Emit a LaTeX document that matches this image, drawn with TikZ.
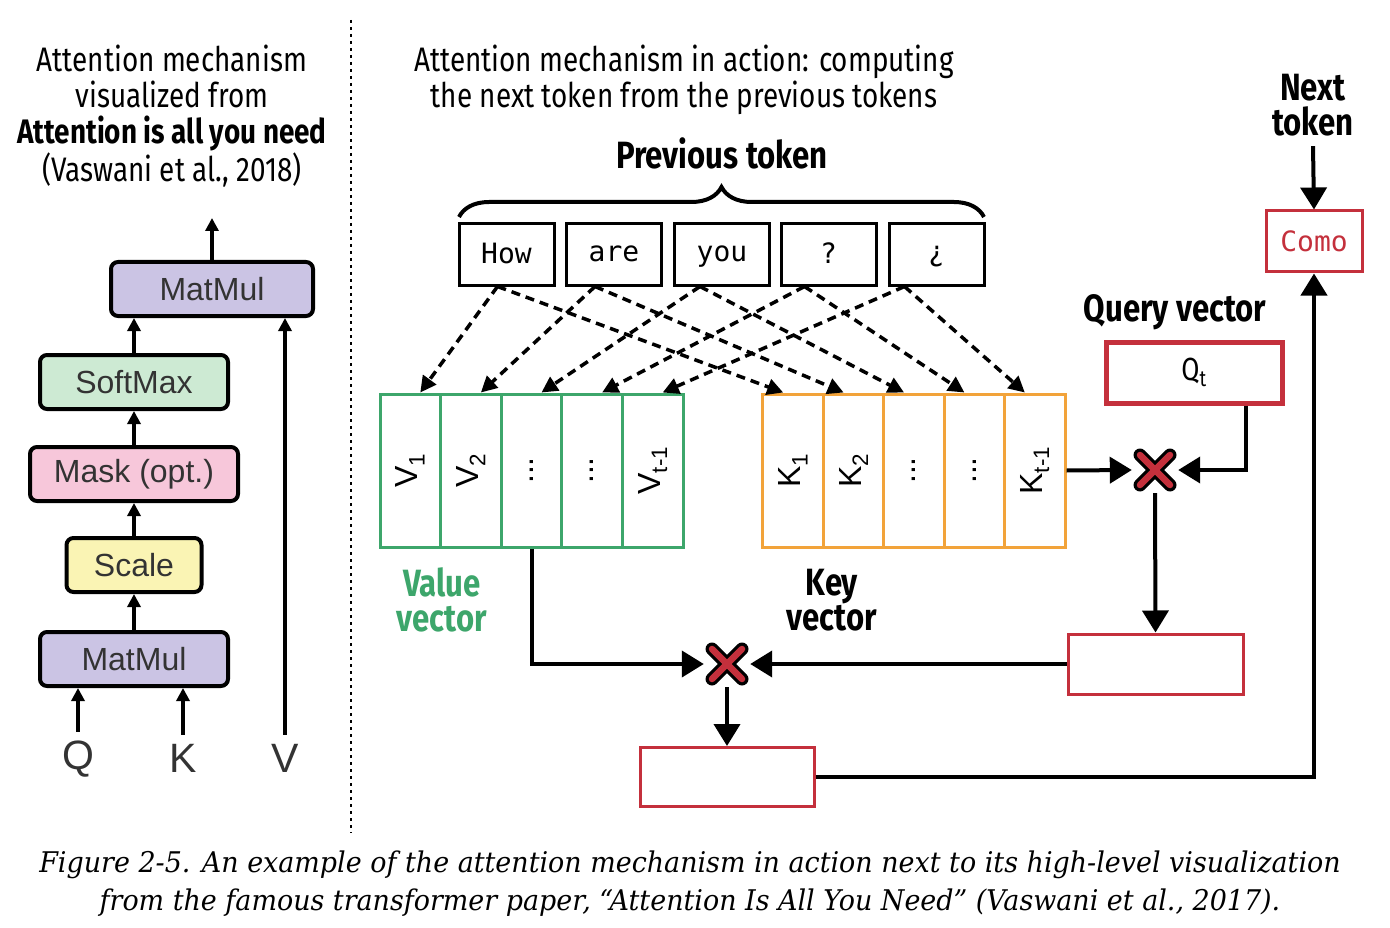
\documentclass[tikz,border=0pt]{standalone}
\usepackage{fontspec}
\usetikzlibrary{arrows.meta,decorations.pathreplacing,calc}
\newfontfamily\cond[FakeStretch=0.82]{Fira Sans}
\newfontfamily\helv{Liberation Sans}
\newfontfamily\mono{DejaVu Sans Mono}
\newfontfamily\capf[FakeStretch=0.945]{DejaVu Serif}
\definecolor{vgreen}{HTML}{3DA66B}
\definecolor{korange}{HTML}{F2A33A}
\definecolor{rred}{HTML}{C4303C}
\definecolor{lpurple}{HTML}{CBC4E4}
\definecolor{lgreen}{HTML}{CDEAD3}
\definecolor{lpink}{HTML}{F7C7DA}
\definecolor{lyellow}{HTML}{FAF4B4}
\definecolor{ltext}{HTML}{333333}
\begin{document}
\begin{tikzpicture}[x=1pt,y=-1pt,
  ttl/.style={font=\cond\fontsize{34}{36}\selectfont, align=center, inner sep=0},
  hdr/.style={font=\cond\bfseries\fontsize{38}{35}\selectfont, align=center, inner sep=0},
  tok/.style={draw, line width=3, minimum width=95, minimum height=61, inner sep=0, text depth=0.2em, font=\mono\fontsize{28}{30}\selectfont},
  vcol/.style={draw=vgreen, line width=3, minimum width=60.6, minimum height=153, inner sep=0},
  kcol/.style={vcol, draw=korange},
  collbl/.style={rotate=90, inner sep=0, font=\helv\fontsize{32}{34}\selectfont},
  redbox/.style={draw=rred, line width=3, inner sep=0},
  lbox/.style={draw, line width=4, rounded corners=7, minimum height=54, inner sep=0, text=ltext, font=\helv\fontsize{32}{34}\selectfont},
  qkv/.style={inner sep=0, text=ltext, font=\helv\fontsize{41}{42}\selectfont},
  big/.style={line width=4, -{Triangle[length=22pt,width=26pt]}},
  small/.style={line width=4, -{Triangle[length=13pt,width=13pt]}},
  dsh/.style={line width=3.5, dash pattern=on 9pt off 6pt, -{Triangle[length=16pt,width=16pt]}},
  xnode/.style={minimum size=46, inner sep=0}
]
\useasboundingbox (0,0) rectangle (1390,928);
\fill[white] (0,0) rectangle (1390,928);

% separator
\draw[line width=2.5, dash pattern=on 3pt off 4pt] (351,20) -- (351,833);

% ---------- left panel ----------
\node[ttl] (lt) at (172,116) {Attention mechanism\\visualized from\\{\bfseries Attention is all you need}\\(Vaswani et al., 2018)};

\node[lbox, fill=lpurple, minimum width=202] (m2) at (212,289) {MatMul};
\node[lbox, fill=lgreen, minimum width=188] (sm) at (134,382) {SoftMax};
\node[lbox, fill=lpink, minimum width=208] (mk) at (134,474) {Mask (opt.)};
\node[lbox, fill=lyellow, minimum width=135] (sc) at (134,565) {Scale};
\node[lbox, fill=lpurple, minimum width=188] (m1) at (134,659) {MatMul};
\node[qkv] (ql) at (78,759) {Q};
\node[qkv] (kl) at (183,758) {K};
\node[qkv] (vl) at (285,758) {V};
\coordinate (mtop) at (212,218);

\draw[small] (m1.north) -- (sc.south);
\draw[small] (sc.north) -- (mk.south);
\draw[small] (mk.north) -- (sm.south);
\draw[small] (sm.north) -- (sm.north |- m2.south);
\draw[small] (m2.north) -- (mtop);
\draw[small] ([yshift=9]ql.north) -- (ql.north |- m1.south);
\draw[small] ([yshift=9]kl.north) -- (kl.north |- m1.south);
\draw[small] ([yshift=9]vl.north) -- (vl.north |- m2.south);

% ---------- right panel ----------
\node[ttl] (rt) at (684,80) {Attention mechanism in action: computing\\the next token from the previous tokens};
\node[hdr] (pt) at (722,153) {Previous token};

\node[tok] (t1) at (506.5,254.5) {How};
\node[tok] (t2) at (614,254.5) {are};
\node[tok] (t3) at (722,254.5) {you};
\node[tok] (t4) at (828.5,254.5) {?};
\node[tok] (t5) at (936.5,254.5) {¿};

\draw[line width=4, decorate, decoration={brace, amplitude=30pt}] (459,217) -- (984,217);

% value / key columns
\foreach \i/\x in {1/410.3,2/470.9,3/531.5,4/592.1,5/652.7}{
  \node[vcol] (v\i) at (\x,470.5) {};
}
\foreach \i/\x in {1/793.2,2/853.6,3/914,4/974.4,5/1034.8}{
  \node[kcol] (k\i) at (\x,470.5) {};
}
\node[collbl] (v1t) at (v1) {V\textsubscript{1}};
\node[collbl] (v2t) at (v2) {V\textsubscript{2}};
\node[collbl] (v3t) at (v3) {...};
\node[collbl] (v4t) at (v4) {...};
\node[collbl] (v5t) at (v5) {V\textsubscript{t-1}};
\node[collbl] (k1t) at (k1) {K\textsubscript{1}};
\node[collbl] (k2t) at (k2) {K\textsubscript{2}};
\node[collbl] (k3t) at (k3) {...};
\node[collbl] (k4t) at (k4) {...};
\node[collbl] (k5t) at (k5) {K\textsubscript{t-1}};

\node[hdr, text=vgreen] (vv) at (442,600) {Value\\vector};
\node[hdr] (kv) at (832,600) {Key\\vector};

% dashed arrows
\foreach \i/\o in {1/-9,2/-19,3/-22,4/-24,5/-32}{
  \draw[dsh] ([xshift=\o]t\i.south) -- ([xshift=10]v\i.north);
  \draw[dsh] ([xshift=\o]t\i.south) -- ([xshift=-10]k\i.north);
}

% query
\node[hdr] (qv) at (1175,312) {Query vector};
\node[draw=rred, line width=5, minimum width=176, minimum height=61, inner sep=0, font=\cond\fontsize{32}{34}\selectfont] (q) at (1194,372.5) {Q\textsubscript{t}};

\node[xnode] (x1) at (1155,470) {};
\node[xnode] (x2) at (727,664) {};
\foreach \n in {x1,x2}{
  \draw[line width=13, line cap=round] ($(\n)+(-15,-15)$) -- ($(\n)+(15,15)$);
  \draw[line width=13, line cap=round] ($(\n)+(-15,15)$) -- ($(\n)+(15,-15)$);
  \draw[line width=6.5, line cap=round, rred] ($(\n)+(-15,-15)$) -- ($(\n)+(15,15)$);
  \draw[line width=6.5, line cap=round, rred] ($(\n)+(-15,15)$) -- ($(\n)+(15,-15)$);
}

\node[redbox, minimum width=175, minimum height=60] (r1) at (1155.5,664) {};
\node[redbox, minimum width=174, minimum height=59] (r2) at (727,777) {};
\node[redbox, minimum width=96, minimum height=61, text=rred, font=\mono\fontsize{28}{30}\selectfont] (como) at (1314,241.5) {Como};
\node[hdr] (nt) at (1313,105) {Next\\token};

\draw[big] (k5.east) -- (x1.west);
\draw[big] ([xshift=-39]q.south east) |- (x1.east);
\draw[big] (x1.south) -- (r1.north);
\draw[big] (r1.west) -- (x2.east);
\draw[big] (v3.south) |- (x2.west);
\draw[big] (x2.south) -- (r2.north);
\draw[big] (r2.east) -| (como.south);
\draw[big] ([yshift=-10]nt.south) -- (como.north);

% caption
\node[inner sep=0, align=center, font=\capf\itshape\fontsize{28.5}{38}\selectfont] (cap) at (690,884) {Figure 2-5. An example of the attention mechanism in action next to its high-level visualization\\from the famous transformer paper, “Attention Is All You Need” (Vaswani et al., 2017).};
\end{tikzpicture}
\end{document}
